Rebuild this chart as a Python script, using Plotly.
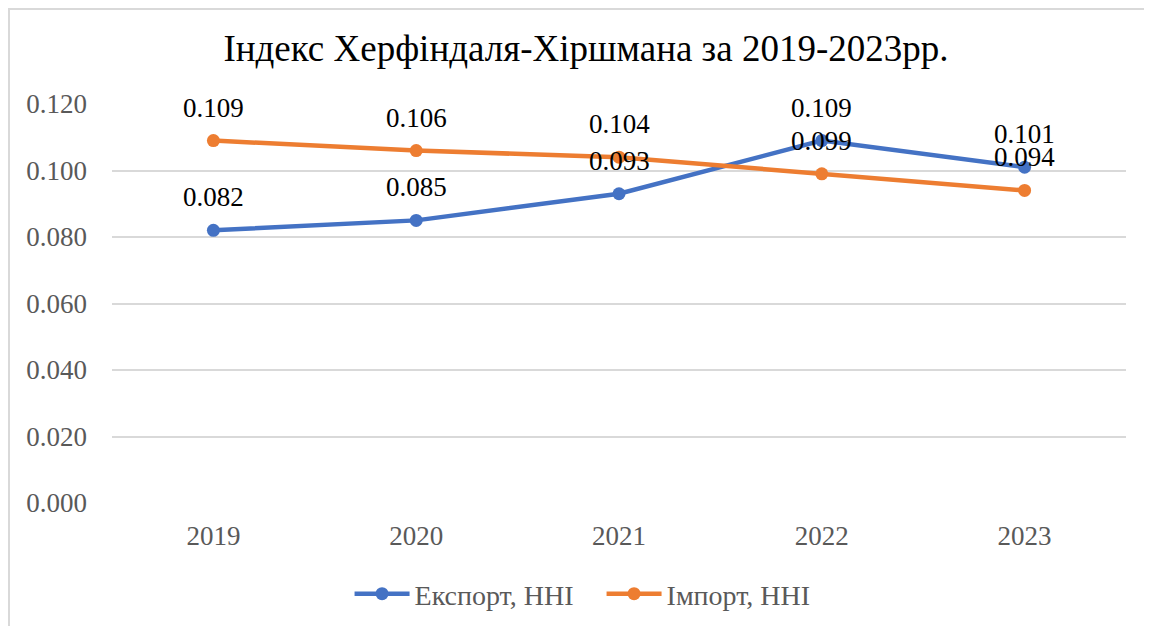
import plotly.graph_objects as go

years = ["2019", "2020", "2021", "2022", "2023"]
export_hhi = [0.082, 0.085, 0.093, 0.109, 0.101]
import_hhi = [0.109, 0.106, 0.104, 0.099, 0.094]
y_ticks = [0.0, 0.02, 0.04, 0.06, 0.08, 0.10, 0.12]

BLUE = "#4472C4"
ORANGE = "#ED7D31"
SERIF = "Liberation Serif"

fig = go.Figure()
fig.add_trace(go.Scatter(
    x=years, y=export_hhi, mode="lines+markers", name="Експорт, HHI",
    line=dict(color=BLUE, width=4.5), marker=dict(size=13, color=BLUE),
))
fig.add_trace(go.Scatter(
    x=years, y=import_hhi, mode="lines+markers", name="Імпорт, HHI",
    line=dict(color=ORANGE, width=4.5), marker=dict(size=13, color=ORANGE),
))

# data labels above each point (x as category index)
for series in (export_hhi, import_hhi):
    for i, v in enumerate(series):
        fig.add_annotation(
            x=i, y=v, text=f"{v:.3f}", showarrow=False, yshift=33,
            font=dict(family=SERIF, size=27, color="black"),
        )

# outer chart border
fig.add_shape(
    type="rect", xref="paper", yref="paper",
    x0=-0.1016, x1=1.1, y0=-0.4, y1=1.238,
    line=dict(color="#d9d9d9", width=2), layer="below",
)

fig.update_layout(
    width=1152, height=626,
    margin=dict(l=104, r=34, t=96, b=131),
    paper_bgcolor="white", plot_bgcolor="white",
    title=dict(
        text="Індекс Херфіндаля-Хіршмана за 2019-2023рр.",
        x=0.5017, xanchor="center", y=0.936, yanchor="middle",
        font=dict(family=SERIF, size=37, color="black"),
    ),
    font=dict(family=SERIF, size=27, color="#595959"),
    legend=dict(
        orientation="h", x=0.4828, xanchor="center", y=-0.228, yanchor="middle",
        font=dict(family=SERIF, size=28, color="#595959"),
        itemwidth=55, entrywidth=182, entrywidthmode="pixels",
    ),
    xaxis=dict(
        type="category", range=[-0.5, 4.5], showgrid=False, showline=False,
        ticks="", ticklabelstandoff=14,
    ),
    yaxis=dict(
        range=[0, 0.12], tickvals=y_ticks, tickformat=".3f",
        showgrid=True, gridcolor="#d9d9d9", gridwidth=1.5,
        zeroline=False, showline=False, ticks="", ticklabelstandoff=24,
    ),
)

fig.write_html("out.html")
